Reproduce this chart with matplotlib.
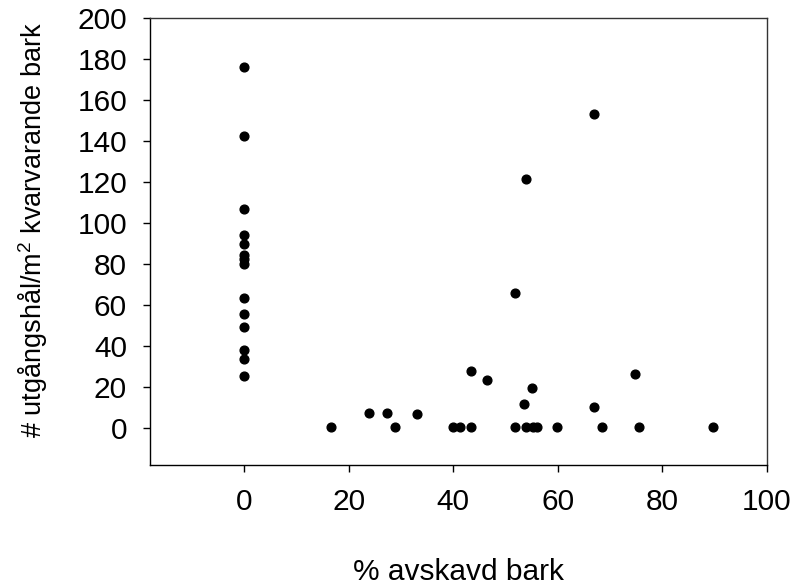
"""Plot exit holes per m2 remaining bark against share of removed bark."""

from __future__ import annotations

from pathlib import Path

import matplotlib

matplotlib.use("Agg")

import matplotlib.pyplot as plt

# Values
removed_bark_percent = [
    0.0, 0.0, 0.0, 0.0, 0.0, 0.0, 0.0,
    0.0, 0.0, 0.0, 0.0, 0.0, 0.0, 0.0,
    16.7, 23.8, 27.4, 28.9, 33.1, 40.0, 41.3,
    43.4, 43.4, 46.5, 51.8, 51.9, 53.5, 53.9,
    53.9, 55.1, 55.2, 56.1, 59.8, 67.0, 67.0,
    68.4, 74.7, 75.6, 89.6,
]
exit_holes_per_m2 = [
    176.2, 142.4, 106.8, 94.3, 89.7, 84.6, 82.3,
    80.0, 63.6, 55.6, 49.4, 38.0, 33.5, 25.5,
    0.6, 7.2, 7.3, 0.6, 6.8, 0.6, 0.6,
    0.6, 27.6, 23.3, 65.7, 0.6, 11.7, 121.6,
    0.6, 19.7, 0.6, 0.6, 0.6, 153.3, 10.4,
    0.6, 26.2, 0.6, 0.6,
]

x_ticks = [0, 20, 40, 60, 80, 100]
y_ticks = [0, 20, 40, 60, 80, 100, 120, 140, 160, 180, 200]

x_label = "% avskavd bark"
y_label = "# utgångshål/m$^{2}$ kvarvarande bark"


def save_scatter_figure(output_path: Path) -> None:
    """Save the scatter plot of exit holes versus removed bark."""

    plt.rcParams["font.family"] = ["Liberation Sans", "DejaVu Sans"]
    plt.rcParams["mathtext.fontset"] = "custom"
    plt.rcParams["mathtext.rm"] = "Liberation Sans"
    plt.rcParams["mathtext.it"] = "Liberation Sans"

    figure = plt.figure(figsize=(7.94, 5.88), dpi=100)
    axes = figure.add_axes(
        [150 / 794, 1 - 465 / 588, 617 / 794, 447 / 588],
    )

    axes.plot(
        removed_bark_percent,
        exit_holes_per_m2,
        linestyle="none",
        marker="o",
        markersize=6.3,
        color="black",
    )

    axes.set_xlim(-18.0, 100.0)
    axes.set_ylim(-18.0, 200.0)
    axes.set_xticks(x_ticks)
    axes.set_yticks(y_ticks)

    axes.tick_params(
        axis="both",
        direction="out",
        length=5,
        width=1,
        pad=11.5,
        labelsize=21.5,
        top=False,
        right=False,
    )

    for name, spine in axes.spines.items():
        spine.set_linewidth(1.0)
        spine.set_color("#333333" if name in ("top", "right") else "black")

    axes.set_xlabel(x_label, fontsize=21.5, labelpad=30)
    axes.set_ylabel(y_label, fontsize=19.5, labelpad=20)
    # the axis title sits a little above the axes centre
    axes.yaxis.label.set_y(0.525)

    figure.savefig(output_path, dpi=100)
    plt.close(figure)


def main() -> None:
    """Generate the figure."""

    output_path = Path("out.png")
    save_scatter_figure(output_path)
    print(f"Saved figure: {output_path}")


if __name__ == "__main__":
    main()
